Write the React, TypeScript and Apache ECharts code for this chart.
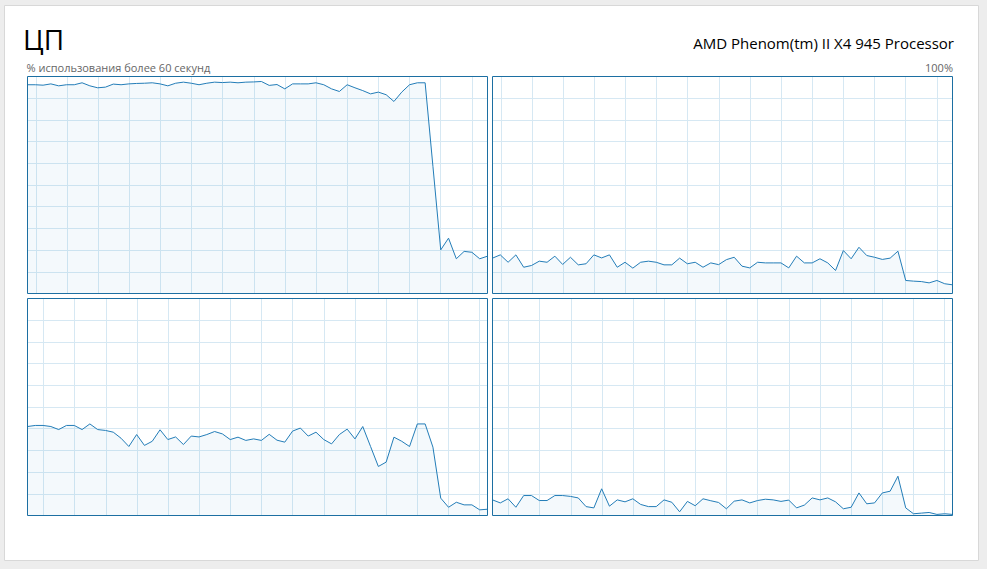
import React, { useEffect, useRef } from "react";
import * as echarts from "echarts";

const titleText = "ЦП";
const cpuName = "AMD Phenom(tm) II X4 945 Processor";
const subtitleText = "% использования более 60 секунд";
const maxLabel = "100%";

// 60 samples, one per second (oldest on the left)
const sampleLabels = Array.from({ length: 60 }, (_, i) => String(59 - i));

const core0 = [
  96.2, 96.2, 96.0, 96.6, 95.7, 96.2, 96.2, 97.1, 95.7, 94.8,
  95.1, 96.5, 96.2, 96.6, 96.8, 96.9, 97.1, 96.6, 95.7, 96.9,
  97.4, 96.9, 96.2, 96.9, 97.4, 97.2, 97.4, 97.1, 97.4, 97.5,
  97.7, 95.9, 96.3, 94.3, 96.6, 96.6, 96.6, 97.1, 96.2, 94.3,
  93.1, 96.2, 94.8, 93.5, 92.0, 92.8, 91.6, 88.5, 92.8, 96.2,
  97.1, 97.1, 58.6, 20.1, 25.5, 16.0, 19.4, 19.0, 16.0, 17.2,
];
const core1 = [
  16.3, 17.8, 14.4, 17.8, 12.1, 12.9, 14.9, 14.4, 17.2, 13.4,
  16.7, 13.2, 13.7, 17.8, 16.4, 17.8, 12.1, 14.4, 11.7, 14.4,
  14.9, 14.4, 13.2, 13.2, 16.3, 13.7, 14.4, 12.1, 14.1, 13.3,
  15.6, 16.7, 12.6, 11.8, 14.4, 14.1, 14.1, 14.1, 11.8, 17.2,
  14.1, 14.1, 16.0, 14.1, 10.6, 19.8, 16.0, 21.3, 17.5, 16.7,
  15.7, 16.3, 19.5, 6.0, 5.7, 5.5, 4.9, 6.0, 4.5, 4.0,
];
const core2 = [
  41.0, 41.5, 41.5, 41.0, 39.6, 41.5, 41.5, 39.6, 42.2, 39.6,
  39.2, 38.4, 35.6, 31.8, 37.3, 32.3, 34.2, 39.5, 35.0, 36.2,
  32.7, 36.6, 36.2, 37.3, 38.7, 37.6, 35.0, 36.1, 34.6, 35.3,
  34.6, 37.4, 34.7, 33.8, 38.9, 40.3, 36.6, 38.4, 35.0, 33.0,
  37.3, 39.8, 35.3, 41.0, 31.8, 22.6, 24.6, 36.1, 34.2, 31.8,
  42.2, 42.2, 31.5, 8.0, 3.8, 6.1, 4.9, 4.9, 2.6, 2.9,
];
const core3 = [
  7.2, 5.8, 7.7, 3.8, 9.2, 9.2, 6.9, 6.9, 9.2, 9.2,
  8.8, 8.1, 4.1, 3.5, 12.3, 4.3, 7.2, 6.3, 7.7, 5.1,
  4.1, 4.1, 7.2, 6.1, 1.7, 6.5, 4.5, 7.7, 6.8, 6.0,
  3.1, 6.6, 7.2, 5.8, 6.9, 7.5, 7.2, 6.5, 7.1, 3.5,
  4.8, 8.1, 7.2, 8.1, 6.3, 3.1, 3.8, 10.4, 5.4, 5.8,
  10.4, 11.2, 18.1, 3.5, 0.8, 1.1, 1.4, 0.5, 0.8, 0.5,
];
const cores = [core0, core1, core2, core3];

const FONT = '"Open Sans", "Noto Sans", sans-serif';
const LINE = "#237db8";
const BORDER = "#1c6fa2";
const FILL = "rgba(17,125,187,0.07)";
const GRIDC = "#d6e8f3";

const PW = 460;
const PH = 217;
const VSTEP = 31.14;
const VCOUNT = 14;
const panels = [
  { left: 27.5, top: 76.5, off: 8.4 },
  { left: 492.5, top: 76.5, off: 8.4 },
  { left: 27.5, top: 298.5, off: 16.0 },
  { left: 492.5, top: 298.5, off: 16.0 },
];

export default function App() {
  const ref = useRef<HTMLDivElement>(null);
  useEffect(() => {
    if (!ref.current) return;
    const chart = echarts.init(ref.current, undefined, { renderer: "svg" });
    const grid: any[] = [];
    const xAxis: any[] = [];
    const yAxis: any[] = [];
    const series: any[] = [];
    const graphic: any[] = [
      {
        type: "rect",
        shape: { x: 4.5, y: 5.5, width: 974, height: 555 },
        style: { fill: "#ffffff", stroke: "#d8d8d8", lineWidth: 1 },
        z: -10,
        silent: true,
      },
      {
        type: "text",
        x: 23,
        y: 38.5,
        style: { text: titleText, fontSize: 28, fontFamily: FONT, fill: "#000", verticalAlign: "middle", align: "left" },
        silent: true,
      },
      {
        type: "text",
        x: 954,
        y: 43,
        style: { text: cpuName, fontSize: 15, fontFamily: FONT, fill: "#000", verticalAlign: "middle", align: "right" },
        silent: true,
      },
      {
        type: "text",
        x: 26.5,
        y: 67.5,
        style: { text: subtitleText, fontSize: 11, fontFamily: FONT, fill: "#666666", verticalAlign: "middle", align: "left" },
        silent: true,
      },
      {
        type: "text",
        x: 953,
        y: 67.5,
        style: { text: maxLabel, fontSize: 11, fontFamily: FONT, fill: "#666666", verticalAlign: "middle", align: "right" },
        silent: true,
      },
    ];
    panels.forEach((p, i) => {
      grid.push({ left: p.left, top: p.top, width: PW, height: PH, containLabel: false });
      grid.push({ left: p.left + p.off, top: p.top, width: VSTEP * VCOUNT, height: PH, containLabel: false });
      xAxis.push({
        type: "category",
        gridIndex: 2 * i,
        data: sampleLabels,
        boundaryGap: false,
        axisLine: { show: false },
        axisTick: { show: false },
        axisLabel: { show: false },
        splitLine: { show: false },
      });
      xAxis.push({
        type: "value",
        gridIndex: 2 * i + 1,
        min: 0,
        max: VCOUNT,
        interval: 1,
        axisLine: { show: false },
        axisTick: { show: false },
        axisLabel: { show: false },
        splitLine: { show: true, showMinLine: true, showMaxLine: true, lineStyle: { color: GRIDC, width: 1 } },
      });
      yAxis.push({
        type: "value",
        gridIndex: 2 * i,
        min: 0,
        max: 100,
        interval: 10,
        axisLine: { show: false },
        axisTick: { show: false },
        axisLabel: { show: false },
        splitLine: { show: true, showMinLine: false, showMaxLine: false, lineStyle: { color: GRIDC, width: 1 } },
      });
      yAxis.push({
        type: "value",
        gridIndex: 2 * i + 1,
        min: 0,
        max: 1,
        show: false,
        splitLine: { show: false },
      });
      series.push({
        type: "line",
        xAxisIndex: 2 * i,
        yAxisIndex: 2 * i,
        data: cores[i],
        symbol: "none",
        silent: true,
        lineStyle: { color: LINE, width: 1 },
        areaStyle: { color: FILL },
        z: 3,
      });
      graphic.push({
        type: "rect",
        shape: { x: p.left, y: p.top, width: PW, height: PH },
        style: { fill: "none", stroke: BORDER, lineWidth: 1 },
        z: 20,
        silent: true,
      });
    });
    chart.setOption({
      animation: false,
      backgroundColor: "#ededed",
      grid,
      xAxis,
      yAxis,
      series,
      graphic,
    });
    return () => chart.dispose();
  }, []);
  return (
    <div
      ref={ref}
      style={{ position: "fixed", left: 0, top: 0, width: 987, height: 569 }}
    />
  );
}
